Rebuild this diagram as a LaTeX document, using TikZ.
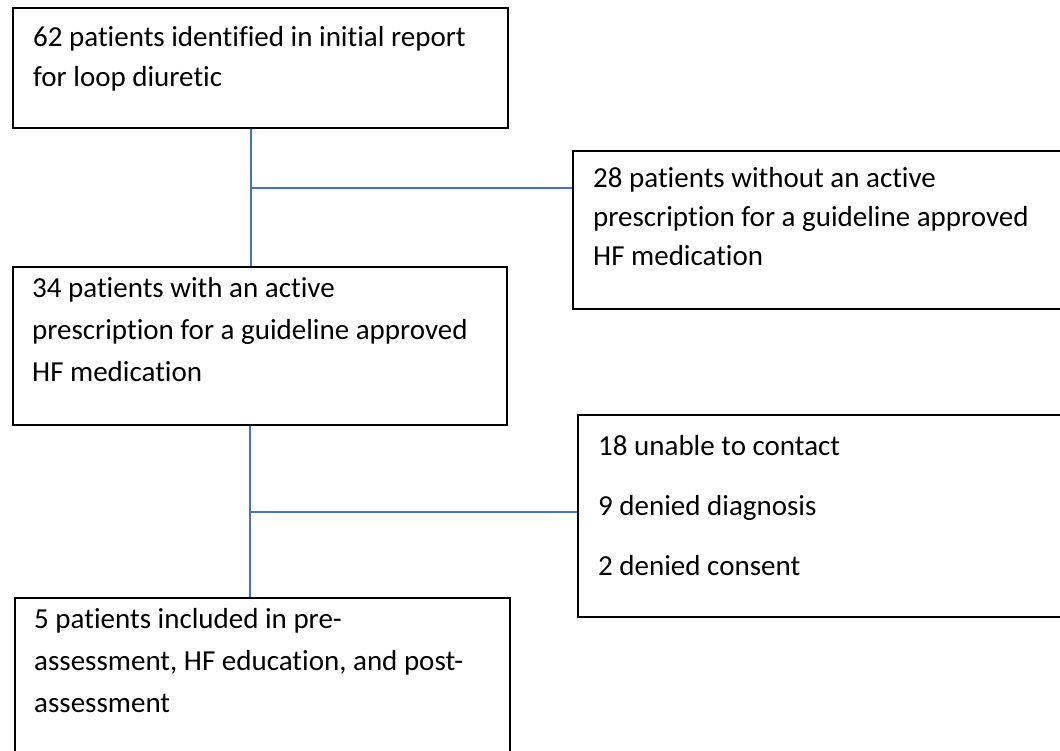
\documentclass[tikz,border=0pt]{standalone}
\usepackage{fontspec}
\setmainfont{Carlito}[Ligatures=NoCommon]
\definecolor{linkblue}{RGB}{68,114,196}
\newcommand{\boxlines}[1]{\begin{tabular}[t]{@{}l@{}}#1\end{tabular}}

\begin{document}
\begin{tikzpicture}[x=1pt, y=-1pt]

                \tikzstyle{box}  = [rectangle, draw, line width=1.6pt, anchor=north west, inner sep=0pt]
                \tikzstyle{txt}  = [anchor=base west, inner sep=0pt, font=\fontsize{29}{42}\selectfont]
                \tikzstyle{link} = [draw=linkblue, line width=1.5pt]
                \useasboundingbox (0,0) rectangle (1060,751);

                \node [box, minimum width=495pt, minimum height=120pt](ident) at (12, 7) {};
                \node [txt, font=\fontsize{29}{40}\selectfont](identtext) at (33, 47) {\boxlines{62 patients identified in initial report\\for loop diuretic}};

                \node [box, minimum width=503pt, minimum height=158pt](nohf) at (572, 150) {};
                \node [txt, font=\fontsize{29}{39}\selectfont](nohftext) at (593, 188) {\boxlines{28 patients without an active\\prescription for a guideline approved\\HF medication}};

                \node [box, minimum width=494pt, minimum height=158pt](withhf) at (12, 266) {};
                \node [txt](withhftext) at (32, 298) {\boxlines{34 patients with an active\\prescription for a guideline approved\\HF medication}};

                \node [box, minimum width=498pt, minimum height=202pt](excl) at (577, 414) {};
                \node [txt](excltext) at (598, 455) {\boxlines{18 unable to contact\\[18pt]9 denied diagnosis\\[18pt]2 denied consent}};

                \node [box, minimum width=495pt, minimum height=170pt](incl) at (14, 597) {};
                \node [txt](incltext) at (34, 628) {\boxlines{5 patients included in pre-\\assessment, HF education, and post-\\assessment}};

                \coordinate (split1) at (251, 188);
                \coordinate (split2) at (250, 512);
                \draw [link] (ident.south -| split1) -- (withhf.north -| split1);
                \draw [link] (split1) -- (nohf.west |- split1);
                \draw [link] (withhf.south -| split2) -- (incl.north -| split2);
                \draw [link] (split2) -- (excl.west |- split2);
\end{tikzpicture}
\end{document}
